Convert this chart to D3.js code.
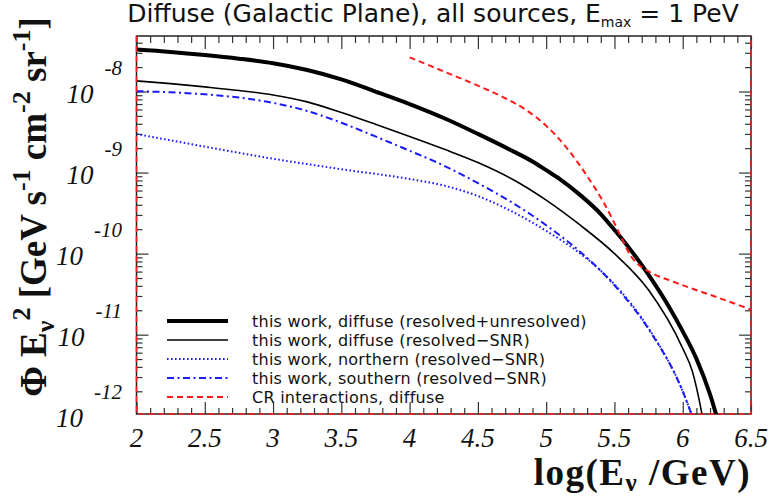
<!DOCTYPE html>
<html><head><meta charset="utf-8">
<script src="https://cdn.jsdelivr.net/npm/d3@7"></script>
<style>
body{margin:0;background:#fff}
svg{display:block}
</style></head><body>
<svg id="chart" width="771" height="496"></svg>
<script>
// Neutrino flux Φ·E² [GeV s^-1 cm^-2 sr^-1] versus log10(E/GeV)
const totalLogE  = [2.0, 2.25, 2.5, 2.75, 3.0, 3.25, 3.5, 3.75, 4.0, 4.25, 4.5, 4.75, 4.9, 5.0, 5.1, 5.25, 5.4, 5.5, 5.6, 5.75, 5.9, 6.0, 6.1, 6.2, 6.26];
const totalFlux  = [3.30e-8, 3.08e-8, 2.82e-8, 2.54e-8, 2.23e-8, 1.84e-8, 1.41e-8, 1.00e-8, 7.00e-9, 4.71e-9, 3.00e-9, 1.86e-9, 1.37e-9, 1.07e-9, 8.32e-10, 5.27e-10, 3.08e-10, 1.96e-10, 1.22e-10, 5.47e-11, 2.20e-11, 1.10e-11, 5.06e-12, 1.83e-12, 8.43e-13];

const resolvedLogE = [2.0, 2.25, 2.5, 2.75, 3.0, 3.25, 3.5, 3.75, 4.0, 4.25, 4.5, 4.75, 5.0, 5.25, 5.5, 5.75, 6.0, 6.07, 6.14, 6.17];
const resolvedFlux = [1.35e-8, 1.25e-8, 1.14e-8, 1.03e-8, 9.06e-9, 7.45e-9, 5.50e-9, 3.94e-9, 2.79e-9, 1.95e-9, 1.33e-9, 8.32e-10, 4.57e-10, 2.24e-10, 1.00e-10, 3.55e-11, 6.76e-12, 3.55e-12, 1.07e-12, 5.6e-13];

const northLogE = [2.0, 2.5, 3.0, 3.5, 4.0, 4.25, 4.5, 4.75, 5.0, 5.25, 5.5, 5.75, 6.0, 6.1];
const northFlux = [2.99e-9, 2.09e-9, 1.48e-9, 1.10e-9, 8.32e-10, 6.92e-10, 5.13e-10, 3.31e-10, 1.91e-10, 1.00e-10, 4.17e-11, 1.20e-11, 2.00e-12, 7.1e-13];

const southLogE = [2.0, 2.25, 2.5, 2.75, 3.0, 3.25, 3.5, 3.75, 4.0, 4.25, 4.5, 4.75, 5.0, 5.25, 5.5, 5.75, 6.0, 6.1];
const southFlux = [1.01e-8, 9.77e-9, 9.23e-9, 8.41e-9, 7.24e-9, 5.75e-9, 4.12e-9, 2.79e-9, 1.86e-9, 1.22e-9, 7.41e-10, 4.27e-10, 2.24e-10, 1.05e-10, 4.07e-11, 1.17e-11, 2.00e-12, 7.1e-13];

const crLogE = [4.0, 4.25, 4.5, 4.7, 4.85, 5.0, 5.15, 5.3, 5.42, 5.5, 5.56, 5.62, 5.68, 5.74, 5.8, 5.9, 6.05, 6.25, 6.5];
const crFlux = [2.64e-8, 1.77e-8, 1.18e-8, 8.26e-9, 5.96e-9, 3.78e-9, 2.02e-9, 9.04e-10, 4.30e-10, 2.37e-10, 1.46e-10, 9.33e-11, 7.23e-11, 6.15e-11, 5.47e-11, 4.70e-11, 3.80e-11, 2.90e-11, 2.04e-11];

const xMajorTicks = [2, 2.5, 3, 3.5, 4, 4.5, 5, 5.5, 6, 6.5];
const xTickLabels = ["2", "2.5", "3", "3.5", "4", "4.5", "5", "5.5", "6", "6.5"];
const yTickExponents = [-8, -9, -10, -11, -12];
const legendLabels = [
  "this work, diffuse (resolved+unresolved)",
  "this work, diffuse (resolved\u2212SNR)",
  "this work, northern (resolved\u2212SNR)",
  "this work, southern (resolved\u2212SNR)",
  "CR interactions, diffuse"
];

const svg = d3.select("#chart");
const frameL = 136.5, frameR = 751, frameT = 36, frameB = 414;

const x = d3.scaleLinear().domain([2, 6.5]).range([frameL, frameR]);
const y = d3.scaleLog().domain([1.05e-12, 4.84e-8]).range([frameB, frameT]);

// curve styles
const styles = [
  {logE: totalLogE,    flux: totalFlux,    color: "#000", width: 4,   dash: null},
  {logE: resolvedLogE, flux: resolvedFlux, color: "#000", width: 1.6, dash: null},
  {logE: northLogE,    flux: northFlux,    color: "#1a1aff", width: 2, dash: "1.6,2.4"},
  {logE: southLogE,    flux: southFlux,    color: "#1a1aff", width: 2, dash: "7,3.5,2,3.5"},
  {logE: crLogE,       flux: crFlux,       color: "#ff1a1a", width: 2, dash: "6,4"}
];

// title
const title = svg.append("text")
  .attr("x", 433).attr("y", 22)
  .attr("text-anchor", "middle")
  .style("font-family", "'DejaVu Sans', sans-serif")
  .style("font-size", "25px")
  .attr("fill", "#111");
title.append("tspan").text("Diffuse (Galactic Plane), all sources, E");
title.append("tspan").attr("dy", 5).style("font-size", "14px").text("max");
title.append("tspan").attr("dy", -5).text(" = 1 PeV");

// frame
svg.append("rect")
  .attr("x", frameL).attr("y", frameT)
  .attr("width", frameR - frameL).attr("height", frameB - frameT)
  .attr("fill", "none").attr("stroke", "#222").attr("stroke-width", 1.5);

// ticks on all four sides, pointing inward
const xMinor = d3.range(20, 66).map(v => v / 10).filter(v => !xMajorTicks.includes(v));
const yAll = y.ticks();
const yMajor = yAll.filter(v => Math.abs(Math.log10(v) - Math.round(Math.log10(v))) < 1e-6);
const yMinor = yAll.filter(v => !yMajor.includes(v));

function tickAxis(axisFn, scale, values, size, transform) {
  const g = svg.append("g").attr("transform", transform)
    .call(axisFn(scale).tickValues(values).tickSize(size).tickFormat(""));
  g.select(".domain").remove();
  g.selectAll("line").attr("stroke", "#333").attr("stroke-width", 1.2);
}
tickAxis(d3.axisBottom, x, xMajorTicks, -12, `translate(0,${frameB})`);
tickAxis(d3.axisBottom, x, xMinor, -6, `translate(0,${frameB})`);
tickAxis(d3.axisTop, x, xMajorTicks, -13, `translate(0,${frameT})`);
tickAxis(d3.axisTop, x, xMinor, -7, `translate(0,${frameT})`);
tickAxis(d3.axisLeft, y, yMajor, -12, `translate(${frameL},0)`);
tickAxis(d3.axisLeft, y, yMinor, -6, `translate(${frameL},0)`);
tickAxis(d3.axisRight, y, yMajor, -12, `translate(${frameR},0)`);
tickAxis(d3.axisRight, y, yMinor, -6, `translate(${frameR},0)`);

// x tick labels
svg.append("g").selectAll("text").data(xMajorTicks).join("text")
  .attr("x", d => x(d)).attr("y", 447)
  .attr("text-anchor", "middle")
  .style("font-family", "'Liberation Serif', serif")
  .style("font-style", "italic")
  .style("font-size", "27px")
  .attr("fill", "#111")
  .text((d, i) => xTickLabels[i]);

// y tick labels: 10^n, right-aligned
const yl = svg.append("g").selectAll("text").data(yTickExponents).join("text")
  .attr("x", 122).attr("y", d => y(Math.pow(10, d)) + 11)
  .attr("text-anchor", "end")
  .style("font-family", "'Liberation Serif', serif")
  .style("font-style", "italic")
  .style("font-size", "27px")
  .attr("fill", "#111");
yl.append("tspan").text("10");
yl.append("tspan").attr("dx", 11).attr("dy", -28).style("font-size", "21px").text(d => String(d));

// axis titles
const xt = svg.append("text")
  .attr("x", 751).attr("y", 485)
  .attr("text-anchor", "end")
  .style("font-family", "'Liberation Serif', serif")
  .style("font-weight", "bold")
  .style("font-size", "37px")
  .style("letter-spacing", "1.5px")
  .attr("fill", "#111");
xt.append("tspan").text("log(E");
xt.append("tspan").attr("dy", 6).style("font-size", "25px").text("\u03bd");
xt.append("tspan").attr("dy", -6).text(" /GeV)");

const yt = svg.append("text")
  .attr("transform", "translate(46,207) rotate(-90)")
  .attr("text-anchor", "middle")
  .style("font-family", "'Liberation Serif', serif")
  .style("font-weight", "bold")
  .style("font-size", "37px")
  .attr("fill", "#111");
yt.append("tspan").text("\u03a6 E");
yt.append("tspan").attr("dy", 8).style("font-size", "26px").text("\u03bd");
yt.append("tspan").attr("dy", -24).style("font-size", "26px").text("2");
yt.append("tspan").attr("dy", 16).text(" [GeV s");
yt.append("tspan").attr("dy", -16).style("font-size", "26px").text("-1");
yt.append("tspan").attr("dy", 16).text(" cm");
yt.append("tspan").attr("dy", -16).style("font-size", "26px").text("-2");
yt.append("tspan").attr("dy", 16).text(" sr");
yt.append("tspan").attr("dy", -16).style("font-size", "26px").text("-1");
yt.append("tspan").attr("dy", 16).text("]");

// curves, clipped to the frame
svg.append("clipPath").attr("id", "plot-clip")
  .append("rect").attr("x", frameL).attr("y", frameT)
  .attr("width", frameR - frameL).attr("height", frameB - frameT);

const line = d3.line().x(d => x(d[0])).y(d => y(d[1])).curve(d3.curveMonotoneX);
const curves = svg.append("g").attr("clip-path", "url(#plot-clip)");
styles.forEach(s => {
  curves.append("path")
    .datum(s.logE.map((e, i) => [e, s.flux[i]]))
    .attr("d", line)
    .attr("fill", "none")
    .attr("stroke", s.color)
    .attr("stroke-width", s.width)
    .attr("stroke-dasharray", s.dash);
});

// red dashed outline along the left, bottom and right edges
svg.append("path")
  .attr("d", `M${frameL},${frameT}V${frameB}H${frameR}V${frameT}`)
  .attr("fill", "none").attr("stroke", "#ff1a1a")
  .attr("stroke-width", 1.5).attr("stroke-dasharray", "6,4");

// legend
const legendRows = [321, 340, 359, 378, 397];
const lg = svg.append("g");
styles.forEach((s, i) => {
  lg.append("line")
    .attr("x1", 167).attr("x2", 228)
    .attr("y1", legendRows[i]).attr("y2", legendRows[i])
    .attr("stroke", s.color).attr("stroke-width", s.width)
    .attr("stroke-dasharray", s.dash);
  lg.append("text")
    .attr("x", 252).attr("y", legendRows[i] + 5.5)
    .style("font-family", "'DejaVu Sans', sans-serif")
    .style("font-size", "16px")
    .style("letter-spacing", "0.25px")
    .attr("fill", "#111")
    .text(legendLabels[i]);
});
</script>
</body></html>
